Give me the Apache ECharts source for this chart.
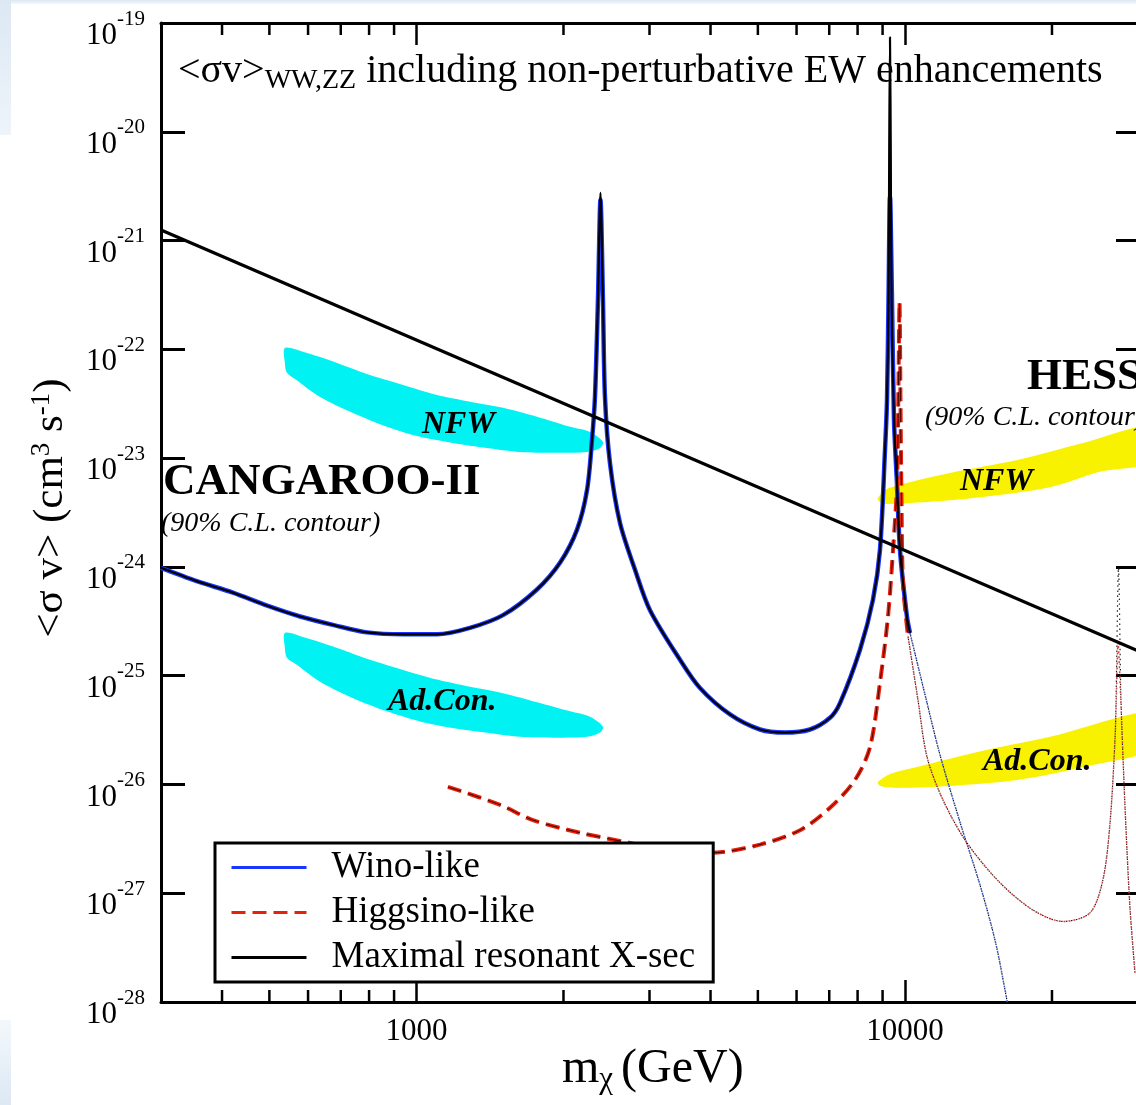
<!DOCTYPE html>
<html>
<head>
<meta charset="utf-8">
<script src="https://cdn.jsdelivr.net/npm/echarts@6/dist/echarts.min.js"></script>
<style>
  html, body { margin: 0; padding: 0; background: #fff; }
  #wrap { position: relative; width: 1136px; height: 1105px; overflow: hidden; }
  .edge { position: absolute; pointer-events: none; }
  #chart { position: absolute; left: 0; top: 0; width: 1136px; height: 1105px; }
</style>
</head>
<body>
<div id="wrap">
  <div class="edge" style="left:0;top:0;width:1136px;height:4px;background:linear-gradient(to bottom,#dbe7f3,#f4f8fc);"></div>
  <div class="edge" style="left:0;top:0;width:11px;height:135px;background:linear-gradient(to bottom,#dce8f4,#eef4fa);"></div>
  <div class="edge" style="left:0;top:1020px;width:11px;height:85px;background:linear-gradient(to bottom,#f4f8fc,#dce8f4);"></div>
  <div id="chart"></div>
</div>
<script>
// ---- Wino-like <sigma v> (solid part) ----
const winoMass = [300, 355, 421, 495, 578, 681, 792, 939, 1102, 1287, 1504, 1765, 1967, 2132, 2235, 2288, 2320, 2353, 2381, 2409, 2432, 2490, 2610, 2802, 3007, 3464, 3806, 4385, 5050, 5682, 6392, 7024, 7364, 8091, 8602, 8890, 9104, 9190, 9256, 9320, 9409, 9498, 9632, 9770, 10097, 10242];
const winoSv = [9.8e-25, 7.4e-25, 5.8e-25, 4.4e-25, 3.5e-25, 2.9e-25, 2.5e-25, 2.4e-25, 2.4e-25, 2.75e-25, 3.6e-25, 6.2e-25, 1.09e-24, 2.2e-24, 5.1e-24, 1.47e-23, 3.65e-23, 2.84e-22, 2.36e-21, 2.84e-22, 3.65e-23, 9.0e-24, 2.54e-24, 9.4e-25, 4.0e-25, 1.40e-25, 7.7e-26, 4.4e-26, 3.2e-26, 3.0e-26, 3.2e-26, 4.1e-26, 5.6e-26, 1.73e-25, 5.0e-25, 1.43e-24, 1.19e-23, 3.43e-23, 2.84e-22, 2.52e-21, 2.84e-22, 2.24e-23, 5.9e-24, 1.43e-24, 3.47e-25, 2.47e-25];

// ---- maximal resonant cross-section along the wino curve ----
const resonantMass = [300, 355, 421, 495, 578, 681, 792, 939, 1102, 1287, 1504, 1765, 1967, 2132, 2235, 2288, 2320, 2353, 2381, 2409, 2432, 2490, 2610, 2802, 3007, 3464, 3806, 4385, 5050, 5682, 6392, 7024, 7364, 8091, 8602, 8890, 9104, 9190, 9256, 9286, 9320, 9354, 9391, 9498, 9632, 9770, 10097, 10242];
const resonantSv = [9.8e-25, 7.4e-25, 5.8e-25, 4.4e-25, 3.5e-25, 2.9e-25, 2.5e-25, 2.4e-25, 2.4e-25, 2.75e-25, 3.6e-25, 6.2e-25, 1.09e-24, 2.2e-24, 5.1e-24, 1.47e-23, 3.65e-23, 2.84e-22, 2.74e-21, 2.84e-22, 3.65e-23, 9.0e-24, 2.54e-24, 9.4e-25, 4.0e-25, 1.40e-25, 7.7e-26, 4.4e-26, 3.2e-26, 3.0e-26, 3.2e-26, 4.1e-26, 5.6e-26, 1.73e-25, 5.0e-25, 1.43e-24, 1.19e-23, 3.43e-23, 2.84e-22, 6.8e-21, 7.4e-20, 6.8e-21, 2.84e-22, 2.24e-23, 5.9e-24, 1.43e-24, 3.47e-25, 2.47e-25];

// ---- wino curve above 10 TeV (dotted) ----
const winoTailMass = [10242, 10993, 11798, 12965, 14248, 15290, 16030, 16560];
const winoTailSv = [2.47e-25, 6.7e-26, 1.87e-26, 4.5e-27, 1.19e-27, 3.7e-28, 1.29e-28, 5.6e-29];

// ---- Higgsino-like <sigma v> (dashed part) ----
const higgsinoMass = [1160, 1483, 1732, 2161, 2736, 3304, 4009, 5050, 6100, 7024, 7903, 8482, 8890, 9233, 9454, 9634, 9701, 9748, 9793, 9840, 9909, 10146];
const higgsinoSv = [9.5e-27, 6.5e-27, 4.7e-27, 3.6e-27, 2.9e-27, 2.45e-27, 2.35e-27, 2.8e-27, 3.8e-27, 6.1e-27, 1.1e-26, 2.2e-26, 8.6e-26, 3.5e-25, 1.43e-24, 5.9e-24, 4.9e-23, 2.7e-22, 3.4e-23, 4.1e-24, 7.1e-25, 2.3e-25];

// ---- higgsino curve above 10 TeV (dotted) ----
const higgsinoTailMass = [10146, 10634, 11097, 11965, 13400, 15650, 18290, 21070, 23920, 25430, 26290, 26920, 27170, 27300, 27560, 28220, 28880, 29580];
const higgsinoTailSv = [2.3e-25, 6.0e-26, 1.79e-26, 7.2e-27, 2.9e-27, 1.25e-27, 7.0e-28, 5.5e-28, 6.6e-28, 1.33e-27, 4.4e-27, 2.6e-26, 1.06e-25, 2.0e-25, 9.1e-26, 6.2e-27, 7.5e-28, 1.85e-28];

// ---- maximal resonant values along the higgsino tail ----
const resonantTailMass = [10146, 10634, 11097, 11965, 13400, 15650, 18290, 21070, 23920, 25430, 26290, 26920, 27050, 27370, 27690, 28220, 28880, 29580];
const resonantTailSv = [2.3e-25, 6.0e-26, 1.79e-26, 7.2e-27, 2.9e-27, 1.25e-27, 7.0e-28, 5.5e-28, 6.6e-28, 1.33e-27, 4.4e-27, 2.6e-26, 6.0e-26, 9.8e-25, 6.0e-26, 6.2e-27, 7.5e-28, 1.85e-28];

// ---- maximal resonant X-sec envelope (straight in log-log) ----
const boundMass = [300, 30000];
const boundSv = [1.25e-21, 1.69e-25];

// ---- CANGAROO-II 90% C.L. contours ----
const cangarooNfwMass = [538, 586, 688, 803, 939, 1102, 1287, 1504, 1765, 2063, 2266, 2409, 2376, 2235, 1904, 1629, 1395, 1188, 1017, 870, 742, 635, 569, 543, 538];
const cangarooNfwSv = [1.03e-22, 9.5e-23, 7.5e-23, 5.8e-23, 4.7e-23, 3.8e-23, 3.3e-23, 2.9e-23, 2.4e-23, 1.94e-23, 1.74e-23, 1.41e-23, 1.24e-23, 1.14e-23, 1.12e-23, 1.14e-23, 1.24e-23, 1.38e-23, 1.57e-23, 1.94e-23, 2.6e-23, 3.65e-23, 5.2e-23, 6.1e-23, 7.5e-23];
const cangarooAdMass = [538, 586, 688, 803, 939, 1102, 1287, 1504, 1765, 2063, 2266, 2409, 2376, 2235, 1904, 1629, 1395, 1188, 1017, 870, 742, 635, 569, 543, 538];
const cangarooAdSv = [2.47e-25, 2.27e-25, 1.80e-25, 1.40e-25, 1.13e-25, 9.2e-26, 7.9e-26, 6.9e-26, 5.7e-26, 4.7e-26, 4.2e-26, 3.4e-26, 3.0e-26, 2.74e-26, 2.69e-26, 2.74e-26, 2.98e-26, 3.3e-26, 3.8e-26, 4.7e-26, 6.2e-26, 8.8e-26, 1.26e-25, 1.46e-25, 1.80e-25];

// ---- HESS 90% C.L. contours ----
const hessNfwMass = [8809, 9104, 9770, 12370, 16960, 23150, 33270, 33270, 25070, 19820, 14450, 10585, 9019, 8809];
const hessNfwSv = [4.31e-24, 5.1e-24, 5.7e-24, 7.3e-24, 9.6e-24, 1.38e-23, 2.02e-23, 9.6e-24, 7.5e-24, 5.4e-24, 4.4e-24, 3.9e-24, 3.8e-24, 4.13e-24];
const hessAdMass = [8809, 9320, 10585, 14450, 19820, 33270, 33270, 23150, 16960, 12370, 9770, 9019, 8809];
const hessAdSv = [1.06e-26, 1.25e-26, 1.45e-26, 2.04e-26, 2.74e-26, 4.74e-26, 2.26e-26, 1.45e-26, 1.10e-26, 9.7e-27, 9.3e-27, 9.5e-27, 1.01e-26];

// ---- axes ----
const massMin = 300, massMax = 30000;
const svMin = 1e-28, svMax = 1e-19;
const massMinorTicks = [400, 500, 600, 700, 800, 900, 2000, 3000, 4000, 5000, 6000, 7000, 8000, 9000, 20000];
const svDecadeExponents = [-28, -27, -26, -25, -24, -23, -22, -21, -20, -19];

const FONT = '"Liberation Serif", "Times New Roman", Times, serif';

function pairs(xs, ys) { return xs.map((x, i) => [x, ys[i]]); }
function isDecade(v) { const l = Math.log10(v); return Math.abs(l - Math.round(l)) < 1e-6; }

function curve(name, xs, ys, lineStyle, z, smooth) {
  return {
    type: 'line', name: name, data: pairs(xs, ys), symbol: 'none', showSymbol: false,
    smooth: smooth || 0, lineStyle: lineStyle, itemStyle: { color: lineStyle.color },
    z: z, silent: true, clip: true, animation: false
  };
}

function contour(name, xs, ys, color) {
  return {
    type: 'custom', name: name, z: 1, silent: true, clip: true,
    data: pairs(xs, ys),
    renderItem: function (params, api) {
      if (params.dataIndex !== 0) return null;
      const cs = params.coordSys;
      const pts = xs.map((x, i) => api.coord([x, ys[i]]));
      return {
        type: 'polygon',
        shape: { points: pts, smooth: 0.3 },
        style: { fill: color },
        clipPath: { type: 'rect', shape: { x: cs.x, y: cs.y, width: cs.width, height: cs.height } }
      };
    }
  };
}

const chart = echarts.init(document.getElementById('chart'), null, { renderer: 'canvas' });

const axisLineStyle = { color: '#000', width: 3 };

const option = {
  animation: false,
  backgroundColor: 'transparent',
  textStyle: { fontFamily: FONT, color: '#000' },
  grid: { left: 161, top: 23, width: 977, height: 979, outerBoundsMode: 'none', containLabel: false },
  xAxis: [
    {
      type: 'log', logBase: 10, min: massMin, max: massMax, position: 'bottom',
      axisLine: { show: true, onZero: false, lineStyle: axisLineStyle },
      axisTick: { show: true, inside: true, length: 22, lineStyle: { color: '#000', width: 2.5 } },
      axisLabel: {
        show: true, margin: 14, fontFamily: FONT, fontSize: 31, color: '#000',
        formatter: v => isDecade(v) ? String(Math.round(v)) : ''
      },
      splitLine: { show: false }, minorTick: { show: false }
    },
    {
      type: 'log', logBase: 10, min: massMin, max: massMax, position: 'top',
      axisLine: { show: true, onZero: false, lineStyle: axisLineStyle },
      axisTick: { show: true, inside: true, length: 22, lineStyle: { color: '#000', width: 2.5 } },
      axisLabel: { show: false }, splitLine: { show: false }
    }
  ],
  yAxis: [
    {
      type: 'log', logBase: 10, min: svMin, max: svMax, splitNumber: 9, position: 'left',
      axisLine: { show: true, onZero: false, lineStyle: axisLineStyle },
      axisTick: { show: true, inside: true, length: 24, lineStyle: { color: '#000', width: 3 } },
      axisLabel: { show: false },
      splitLine: { show: false }
    },
    {
      type: 'log', logBase: 10, min: svMin, max: svMax, splitNumber: 9, position: 'right',
      axisLine: { show: true, onZero: false, lineStyle: axisLineStyle },
      axisTick: { show: true, inside: true, length: 22, lineStyle: { color: '#000', width: 3 } },
      axisLabel: { show: false }, splitLine: { show: false }
    }
  ],
  legend: {
    data: ['Wino-like', 'Higgsino-like', 'Maximal resonant X-sec'],
    orient: 'vertical', left: 215, top: 843,
    padding: [6, 18, 6, 15], itemGap: 8, itemWidth: 75, itemHeight: 14,
    backgroundColor: '#fff', borderColor: '#000', borderWidth: 3, borderRadius: 0,
    selectedMode: false, z: 10,
    itemStyle: { opacity: 0, borderWidth: 0 },
    lineStyle: { width: 3 },
    textStyle: { fontFamily: FONT, fontSize: 37, lineHeight: 36, color: '#000', padding: [0, 0, 0, 20] }
  },
  series: [
    contour('CANGAROO-II NFW', cangarooNfwMass, cangarooNfwSv, '#00f2f2'),
    contour('CANGAROO-II Ad.Con.', cangarooAdMass, cangarooAdSv, '#00f2f2'),
    contour('HESS NFW', hessNfwMass, hessNfwSv, '#f8f200'),
    contour('HESS Ad.Con.', hessAdMass, hessAdSv, '#f8f200'),

    curve('Maximal resonant X-sec', boundMass, boundSv, { color: '#000', width: 3.2 }, 4),

    curve('Wino-like', winoMass, winoSv, { color: '#1836ff', width: 4.5 }, 3, 0.3),
    curve('Wino-like resonant', resonantMass, resonantSv, { color: '#000', width: 2.2 }, 4, 0.3),
    curve('Wino-like tail', winoTailMass, winoTailSv, { color: '#3a5ad0', width: 1.5, type: [2, 3] }, 3, 0.3),
    curve('Wino-like tail resonant', winoTailMass, winoTailSv, { color: '#111', width: 1.2, type: [1.5, 3.5], dashOffset: 2.5 }, 3, 0.3),

    curve('Higgsino-like', higgsinoMass, higgsinoSv, { color: '#e8220a', width: 4, type: [14, 7] }, 3, 0.3),
    curve('Higgsino-like core', higgsinoMass, higgsinoSv, { color: '#400000', width: 1, type: [14, 7] }, 3, 0.3),
    curve('Higgsino-like tail', higgsinoTailMass, higgsinoTailSv, { color: '#d04040', width: 1.5, type: [2, 3] }, 3, 0.3),
    curve('Higgsino-like tail resonant', resonantTailMass, resonantTailSv, { color: '#222', width: 1.2, type: [1.5, 3.5], dashOffset: 2.5 }, 3, 0.3),

    {
      // minor mass ticks (2..9 x each decade) on the bottom and top frame
      type: 'custom', name: 'minor ticks', silent: true, z: 6,
      data: massMinorTicks.map(m => [m, svMin]),
      renderItem: function (params, api) {
        const x = api.coord([api.value(0), svMin])[0];
        const cs = params.coordSys;
        const yb = cs.y + cs.height, yt = cs.y;
        return {
          type: 'group',
          children: [
            { type: 'line', shape: { x1: x, y1: yb, x2: x, y2: yb - 12 }, style: { stroke: '#000', lineWidth: 2.5 } },
            { type: 'line', shape: { x1: x, y1: yt, x2: x, y2: yt + 12 }, style: { stroke: '#000', lineWidth: 2.5 } }
          ]
        };
      }
    },
    {
      // decade labels 10^n on the value axis
      type: 'custom', name: 'decade labels', silent: true, clip: false, z: 6,
      data: svDecadeExponents.map(e => [massMin, Math.pow(10, e)]),
      renderItem: function (params, api) {
        const p = api.coord([api.value(0), api.value(1)]);
        const e = svDecadeExponents[params.dataIndex];
        const x = p[0] - 44;
        return {
          type: 'group',
          children: [
            { type: 'text', x: x, y: p[1] + 13, style: { text: '10', font: '31px ' + FONT, fill: '#000', textAlign: 'right', textVerticalAlign: 'middle' } },
            { type: 'text', x: x, y: p[1] - 4, style: { text: String(e), font: '21px ' + FONT, fill: '#000', textAlign: 'left', textVerticalAlign: 'middle' } }
          ]
        };
      }
    }
  ],
  graphic: [
    {
      type: 'text', x: 178, y: 51, z: 20,
      style: {
        text: '{a|<σv>}{sub|WW,ZZ}{a| including non-perturbative EW enhancements}',
        textVerticalAlign: 'top', textAlign: 'left',
        rich: {
          a: { fontFamily: FONT, fontSize: 40, lineHeight: 44, verticalAlign: 'top', fill: '#000' },
          sub: { fontFamily: FONT, fontSize: 28, lineHeight: 28, padding: [28, 0, 0, 0], verticalAlign: 'bottom', fill: '#000' }
        }
      }
    },
    { type: 'text', x: 163, y: 482, z: 20, style: { text: 'CANGAROO-II', font: 'bold 45px ' + FONT, fill: '#000', textVerticalAlign: 'middle' } },
    { type: 'text', x: 161, y: 524, z: 20, style: { text: '(90% C.L. contour)', font: 'italic 28px ' + FONT, fill: '#000', textVerticalAlign: 'middle' } },
    { type: 'text', x: 1027, y: 377, z: 20, style: { text: 'HESS', font: 'bold 45px ' + FONT, fill: '#000', textVerticalAlign: 'middle' } },
    { type: 'text', x: 925, y: 418, z: 20, style: { text: '(90% C.L. contour)', font: 'italic 28px ' + FONT, fill: '#000', textVerticalAlign: 'middle' } },
    { type: 'text', x: 422, y: 425, z: 20, style: { text: 'NFW', font: 'italic bold 32px ' + FONT, fill: '#000', textVerticalAlign: 'middle' } },
    { type: 'text', x: 388, y: 702, z: 20, style: { text: 'Ad.Con.', font: 'italic bold 32px ' + FONT, fill: '#000', textVerticalAlign: 'middle' } },
    { type: 'text', x: 960, y: 482, z: 20, style: { text: 'NFW', font: 'italic bold 32px ' + FONT, fill: '#000', textVerticalAlign: 'middle' } },
    { type: 'text', x: 983, y: 762, z: 20, style: { text: 'Ad.Con.', font: 'italic bold 32px ' + FONT, fill: '#000', textVerticalAlign: 'middle' } },
    {
      type: 'text', x: 50, y: 508, rotation: Math.PI / 2, z: 20,
      style: {
        text: '{t|<σ v> (cm}{p|3}{t| s}{p|-1}{t|)}',
        textAlign: 'center', textVerticalAlign: 'middle',
        rich: {
          t: { fontFamily: FONT, fontSize: 43, lineHeight: 44, padding: [16, 0, 0, 0], verticalAlign: 'bottom', fill: '#000' },
          p: { fontFamily: FONT, fontSize: 27, lineHeight: 27, verticalAlign: 'top', fill: '#000' }
        }
      }
    },
    {
      type: 'text', x: 562, y: 1045, z: 20,
      style: {
        text: '{m|m}{c|χ}{m|(GeV)}',
        textAlign: 'left', textVerticalAlign: 'top',
        rich: {
          m: { fontFamily: FONT, fontSize: 48, lineHeight: 50, verticalAlign: 'top', fill: '#000' },
          c: { fontFamily: FONT, fontSize: 31, lineHeight: 31, padding: [26, 8, 0, 0], verticalAlign: 'bottom', fill: '#000' }
        }
      }
    }
  ]
};

chart.setOption(option);
</script>
</body>
</html>
